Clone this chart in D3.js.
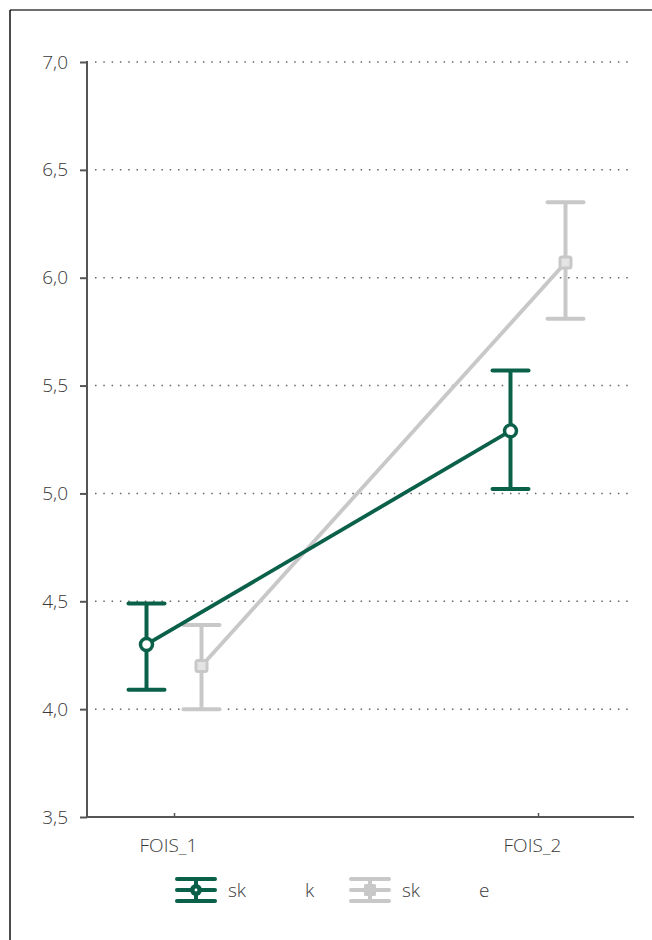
<!DOCTYPE html>
<html>
<head>
<meta charset="utf-8">
<script src="https://cdn.jsdelivr.net/npm/d3@7"></script>
<style>
  body { margin: 0; background: #fff; }
  text { font-family: "Open Sans", sans-serif; font-weight: 300; fill: #3a3a3a; }
</style>
</head>
<body>
<div id="vis"></div>
<script>
// data
const categories = ["FOIS_1", "FOIS_2"];
const groupNames = [["sk", "k"], ["sk", "e"]];
const meanK = [4.30, 5.29];
const lowK = [4.09, 5.02];
const highK = [4.49, 5.57];
const meanE = [4.20, 6.07];
const lowE = [4.00, 5.81];
const highE = [4.39, 6.35];
const yTicks = [3.5, 4.0, 4.5, 5.0, 5.5, 6.0, 6.5, 7.0];

const colors = ["#0a6049", "#c8c8c8"];

let width = 652, height = 940;
let svg = d3.select("#vis").append("svg")
    .attr("width", width)
    .attr("height", height);

// outer frame
svg.append("line").attr("x1", 10).attr("x2", width).attr("y1", 10).attr("y2", 10)
    .attr("stroke", "#6e6e6e").attr("stroke-width", 2);
svg.append("line").attr("x1", 10).attr("x2", 10).attr("y1", 10).attr("y2", height)
    .attr("stroke", "#111").attr("stroke-width", 1.5);

let plot = {left: 87, right: 634, top: 62, bottom: 817};

let y = d3.scaleLinear().domain([3.5, 7.0]).range([plot.bottom, plot.top]);
let x = d3.scalePoint().domain(categories).range([174, 538]);
const dodge = 27.5;

let fmt = v => d3.format(".1f")(v).replace(".", ",");
const fontSize = "19px";

// grid
svg.append("g").selectAll("line")
    .data(yTicks.filter(d => d > 3.5))
    .enter().append("line")
    .attr("x1", plot.left + 8).attr("x2", plot.right)
    .attr("y1", d => y(d)).attr("y2", d => y(d))
    .attr("stroke", "#666").attr("stroke-width", 1.5)
    .attr("stroke-dasharray", "1.5,6.8");

// y axis
let yAxis = svg.append("g")
    .attr("transform", "translate(" + plot.left + ",0)")
    .call(d3.axisLeft(y).tickValues(yTicks).tickFormat(fmt).tickSize(7).tickPadding(12));
yAxis.select(".domain").remove();
yAxis.selectAll(".tick line").attr("stroke", "#555").attr("stroke-width", 2);
yAxis.selectAll(".tick text").style("font-size", fontSize).attr("fill", "#3a3a3a");
svg.append("line")
    .attr("x1", plot.left).attr("x2", plot.left)
    .attr("y1", plot.top - 1).attr("y2", plot.bottom)
    .attr("stroke", "#555").attr("stroke-width", 2);

// x axis
let xAxis = svg.append("g")
    .attr("transform", "translate(0," + plot.bottom + ")")
    .call(d3.axisBottom(x).tickSize(-4).tickPadding(22));
xAxis.select(".domain").remove();
xAxis.selectAll(".tick line").attr("stroke", "#555").attr("stroke-width", 1.5);
xAxis.selectAll(".tick text").style("font-size", fontSize).attr("fill", "#3a3a3a")
    .attr("dx", -6);
svg.append("line")
    .attr("x1", plot.left - 1).attr("x2", plot.right)
    .attr("y1", plot.bottom).attr("y2", plot.bottom)
    .attr("stroke", "#555").attr("stroke-width", 2);

// series
let series = [
    {mean: meanK, low: lowK, high: highK, off: -dodge, color: colors[0], shape: "circle"},
    {mean: meanE, low: lowE, high: highE, off: dodge, color: colors[1], shape: "square"}
];

// draw gray series first so green is on top
[series[1], series[0]].forEach(s => {
    let g = svg.append("g");
    let pts = categories.map((c, i) => ({
        x: x(c) + s.off, m: s.mean[i], lo: s.low[i], hi: s.high[i]
    }));

    g.selectAll(".err").data(pts).enter().append("line")
        .attr("x1", d => d.x).attr("x2", d => d.x)
        .attr("y1", d => y(d.lo)).attr("y2", d => y(d.hi))
        .attr("stroke", s.color).attr("stroke-width", 4);
    ["lo", "hi"].forEach(k => {
        g.selectAll(".cap-" + k).data(pts).enter().append("line")
            .attr("x1", d => d.x - 18).attr("x2", d => d.x + 18)
            .attr("y1", d => y(d[k])).attr("y2", d => y(d[k]))
            .attr("stroke", s.color).attr("stroke-width", 4)
            .attr("stroke-linecap", "round");
    });

    g.append("path")
        .datum(pts)
        .attr("d", d3.line().x(d => d.x).y(d => y(d.m)))
        .attr("fill", "none")
        .attr("stroke", s.color).attr("stroke-width", 3.8);

    if (s.shape === "circle") {
        g.selectAll(".mk").data(pts).enter().append("circle")
            .attr("cx", d => d.x).attr("cy", d => y(d.m)).attr("r", 6)
            .attr("fill", "#fff").attr("stroke", s.color).attr("stroke-width", 3.5);
    } else {
        g.selectAll(".mk").data(pts).enter().append("rect")
            .attr("x", d => d.x - 5.5).attr("y", d => y(d.m) - 5.5)
            .attr("width", 11).attr("height", 11).attr("rx", 2)
            .attr("fill", "#e4e4e4").attr("stroke", s.color).attr("stroke-width", 3);
    }
});

// legend
let legend = svg.append("g").attr("transform", "translate(0,890)");
let legendX = [196, 370];
series.forEach((s, i) => {
    let lg = legend.append("g").attr("transform", "translate(" + legendX[i] + ",0)");
    [-11, 0, 11].forEach(dy => {
        lg.append("line").attr("x1", -19).attr("x2", 19).attr("y1", dy).attr("y2", dy)
            .attr("stroke", s.color).attr("stroke-width", 4).attr("stroke-linecap", "round");
    });
    lg.append("line").attr("x1", 0).attr("x2", 0).attr("y1", -11).attr("y2", 11)
        .attr("stroke", s.color).attr("stroke-width", 4);
    if (s.shape === "circle") {
        lg.append("circle").attr("r", 6).attr("fill", s.color);
        lg.append("circle").attr("r", 1.4).attr("fill", "#fff");
    } else {
        lg.append("rect").attr("x", -6).attr("y", -6).attr("width", 12).attr("height", 12)
            .attr("rx", 1.5).attr("fill", s.color);
    }
    lg.append("text").attr("x", 32).attr("y", 7).style("font-size", fontSize).text(groupNames[i][0]);
    lg.append("text").attr("x", 109).attr("y", 7).style("font-size", fontSize).text(groupNames[i][1]);
});
</script>
</body>
</html>
